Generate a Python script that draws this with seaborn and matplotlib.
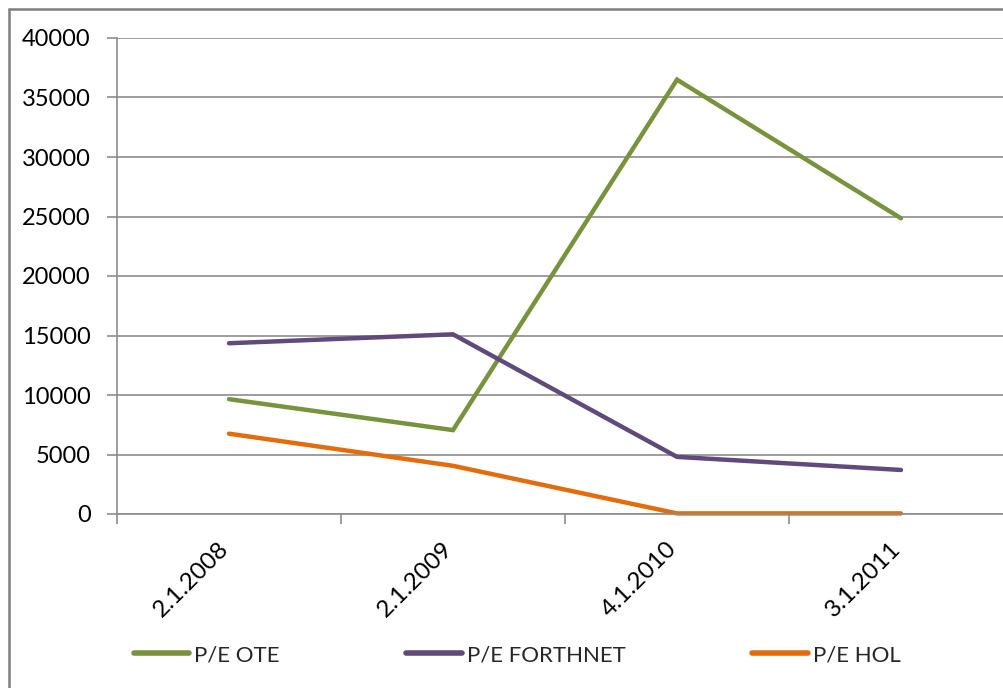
import numpy as np
import pandas as pd
import seaborn as sns
import matplotlib.pyplot as plt
import matplotlib.transforms as mtransforms
from matplotlib.lines import Line2D

# data
dates = ["2.1.2008", "2.1.2009", "4.1.2010", "3.1.2011"]
pe_ote = [9650, 7050, 36500, 24850]
pe_forthnet = [14350, 15100, 4800, 3700]
pe_hol = [6750, 4050, 50, 50]
series_names = ["P/E OTE", "P/E FORTHNET", "P/E HOL"]
y_ticks = [0, 5000, 10000, 15000, 20000, 25000, 30000, 35000, 40000]

df = pd.DataFrame({"date": dates * 3,
                   "x": list(range(len(dates))) * 3,
                   "value": pe_ote + pe_forthnet + pe_hol,
                   "series": [s for s in series_names for _ in dates]})

sns.set_style("white")
plt.rcParams['font.family'] = ['Lato', 'DejaVu Sans']
colors = {"P/E OTE": "#77933C", "P/E FORTHNET": "#604A7B", "P/E HOL": "#E46C0A"}

fig = plt.figure(figsize=(10.04, 6.88), dpi=100)
ax = fig.add_axes([117 / 1004, 1 - 514 / 688, 1 - 117 / 1004, (514 - 38) / 688])

sns.lineplot(data=df, x="x", y="value", hue="series", palette=colors,
             linewidth=3.2, ax=ax, legend=False, sort=False)
for ln in ax.lines:
    ln.set_clip_on(False)
    ln.set_solid_capstyle("round")
    ln.set_solid_joinstyle("miter")

grid_c = "#8C8C8C"
ax.set_ylim(0, 40000)
ax.set_xlim(-0.5, (1004 - 229) / 224)
ax.set_yticks(y_ticks)
ax.set_yticklabels([str(v) for v in y_ticks])
ax.yaxis.grid(True, color=grid_c, linewidth=1.2)
ax.xaxis.grid(False)
ax.set_xticks(range(len(dates)))
ax.set_xticklabels(dates, rotation=45, ha="right", va="top", rotation_mode="default")
ax.set_xticks([-0.5, 0.5, 1.5, 2.5], minor=True)
ax.tick_params(axis="x", which="major", length=0, pad=17, labelsize=17.5, colors="black")
ax.tick_params(axis="x", which="minor", length=7, width=1.2, color=grid_c, direction="out", bottom=True)
ax.tick_params(axis="y", length=7, width=1.2, color=grid_c, direction="out", left=True,
               pad=12, labelsize=17, labelcolor="black")
# nudge the date labels a little to the right
shift = mtransforms.ScaledTranslation(4 / 100, 0, fig.dpi_scale_trans)
for lbl in ax.get_xticklabels():
    lbl.set_transform(lbl.get_transform() + shift)
ax.set_xlabel("")
ax.set_ylabel("")
for s in ["top", "right"]:
    ax.spines[s].set_visible(False)
for s in ["left", "bottom"]:
    ax.spines[s].set_color(grid_c)
    ax.spines[s].set_linewidth(1.2)

# legend along the bottom
handles = [Line2D([], [], color=colors[n], linewidth=4, solid_capstyle="round") for n in series_names]
fig.legend(handles, series_names, loc="center", bbox_to_anchor=(517 / 1004, 1 - 655 / 688),
           ncol=3, frameon=False, fontsize=16, handlelength=2.5, handletextpad=0.22,
           columnspacing=5.7)

# outer chart frame (cropped on right and bottom)
fx = 9 / 1004
fy = 1 - 9 / 688
fig.add_artist(Line2D([fx, fx], [0, fy], transform=fig.transFigure, color="#7F7F7F", linewidth=1.8))
fig.add_artist(Line2D([fx, 1], [fy, fy], transform=fig.transFigure, color="#7F7F7F", linewidth=1.8))

fig.savefig("out.png", dpi=100)
